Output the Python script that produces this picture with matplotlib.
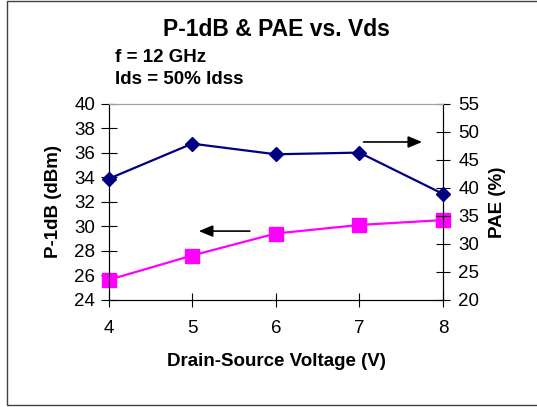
import matplotlib.pyplot as plt
from matplotlib.patches import Rectangle

plt.rcParams['font.family'] = ['Liberation Sans', 'DejaVu Sans']

# data
vds = [4, 5, 6, 7, 8]
p1db = [25.6, 27.6, 29.4, 30.1, 30.5]   # dBm, left axis
pae = [41.6, 47.9, 46.0, 46.3, 38.9]    # %, right axis

fig = plt.figure(figsize=(5.37, 4.07), dpi=100)
W, H = 537, 407

# outer frame
fig.patches.append(Rectangle((7 / W, 1 - 405 / H), 540 / W, 404 / H,
                             transform=fig.transFigure, fill=False,
                             edgecolor='#404040', linewidth=1))

ax = fig.add_axes([108.5 / W, 1 - 299.5 / H, (443 - 108.5) / W, (299.5 - 104) / H])
ax2 = ax.twinx()

ax.plot(vds, p1db, color='#FF00FF', marker='s', markersize=9.5, linewidth=1.6, clip_on=False, zorder=3)
ax2.plot(vds, pae, color='#000080', marker='D', markersize=7, linewidth=1.6, clip_on=False, zorder=3)

ax.set_xlim(4, 8)
ax.set_ylim(24, 40)
ax2.set_ylim(20, 55)
ax.set_xticks(vds)
ax.set_yticks(range(24, 41, 2))
ax2.set_yticks(range(20, 56, 5))

ax.tick_params(axis='y', direction='inout', length=11, labelsize=13.5, pad=4)
ax.tick_params(axis='x', direction='inout', length=10, labelsize=13.5, pad=9.5)
ax2.tick_params(axis='y', direction='inout', length=10, labelsize=13.5, pad=6)

for a in (ax, ax2):
    a.spines['top'].set_color('#a0a0a0')
    a.spines['left'].set_color('black')
    a.spines['right'].set_color('black')
    a.spines['bottom'].set_color('black')

# axis titles placed by pixel position
fig.text(54 / W, 1 - 201 / H, 'P-1dB (dBm)', rotation=90, ha='center', va='center',
         fontsize=13.5, fontweight='bold')
fig.text(497 / W, 1 - 202 / H, 'PAE (%)', rotation=90, ha='center', va='center',
         fontsize=13.5, fontweight='bold')
fig.text(276 / W, 1 - 362 / H, 'Drain-Source Voltage (V)', ha='center', va='center',
         fontsize=13.5, fontweight='bold')

# arrows pointing to the axes each series belongs to
arrow = dict(arrowstyle='-|>,head_length=0.6,head_width=0.25', color='black', lw=1.2,
             mutation_scale=14, shrinkA=0, shrinkB=0)
ax.annotate('', xy=(5.08, 29.6), xytext=(5.69, 29.6), arrowprops=arrow)
ax2.annotate('', xy=(7.75, 48.2), xytext=(7.05, 48.2), arrowprops=arrow)

fig.text(276.5 / W, 1 - 29 / H, 'P-1dB & PAE vs. Vds', ha='center', va='center',
         fontsize=16.5, fontweight='bold')
fig.text(115 / W, 1 - 57 / H, 'f = 12 GHz', ha='left', va='center', fontsize=13.5, fontweight='bold')
fig.text(115 / W, 1 - 80 / H, 'Ids = 50% Idss', ha='left', va='center', fontsize=13.5, fontweight='bold')

fig.savefig('out.png', dpi=100)
